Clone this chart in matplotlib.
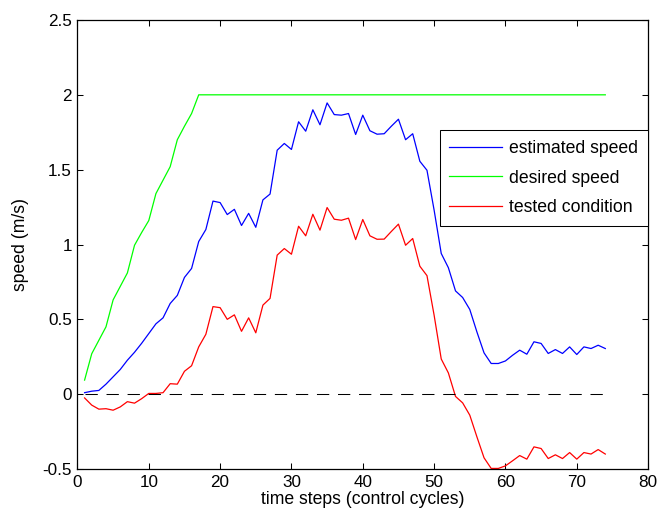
import numpy as np
import matplotlib
matplotlib.use("Agg")
import matplotlib.pyplot as plt

plt.rcParams["font.family"] = ["Liberation Sans", "DejaVu Sans"]
plt.rcParams["axes.unicode_minus"] = False

steps = np.arange(1, 75)

estimated_speed = [
    0.01, 0.02, 0.025, 0.067, 0.116, 0.165, 0.227, 0.28, 0.34, 0.405,
    0.47, 0.51, 0.606, 0.66, 0.78, 0.84, 1.02, 1.10, 1.29, 1.28,
    1.20, 1.235, 1.127, 1.208, 1.115, 1.298, 1.337, 1.63, 1.675, 1.635,
    1.82, 1.757, 1.90, 1.80, 1.946, 1.868, 1.864, 1.875, 1.735, 1.864,
    1.76, 1.737, 1.74, 1.79, 1.837, 1.70, 1.74, 1.556, 1.496, 1.23,
    0.94, 0.845, 0.69, 0.646, 0.566, 0.416, 0.276, 0.205, 0.205, 0.222,
    0.26, 0.294, 0.267, 0.35, 0.339, 0.272, 0.298, 0.272, 0.316, 0.265,
    0.316, 0.305, 0.327, 0.305,
]

desired_speed = [
    0.094, 0.27, 0.36, 0.45, 0.63, 0.72, 0.81, 0.995, 1.08, 1.16,
    1.34, 1.43, 1.52, 1.70, 1.79, 1.875, 2.0, 2.0, 2.0, 2.0,
    2.0, 2.0, 2.0, 2.0, 2.0, 2.0, 2.0, 2.0, 2.0, 2.0,
    2.0, 2.0, 2.0, 2.0, 2.0, 2.0, 2.0, 2.0, 2.0, 2.0,
    2.0, 2.0, 2.0, 2.0, 2.0, 2.0, 2.0, 2.0, 2.0, 2.0,
    2.0, 2.0, 2.0, 2.0, 2.0, 2.0, 2.0, 2.0, 2.0, 2.0,
    2.0, 2.0, 2.0, 2.0, 2.0, 2.0, 2.0, 2.0, 2.0, 2.0,
    2.0, 2.0, 2.0, 2.0,
]

tested_condition = [
    -0.025, -0.073, -0.10, -0.097, -0.107, -0.085, -0.05, -0.06, -0.03, 0.005,
    0.005, 0.01, 0.07, 0.067, 0.153, 0.19, 0.316, 0.40, 0.585, 0.578,
    0.50, 0.53, 0.42, 0.51, 0.41, 0.595, 0.64, 0.929, 0.973, 0.935,
    1.122, 1.058, 1.202, 1.096, 1.247, 1.169, 1.162, 1.176, 1.033, 1.167,
    1.058, 1.035, 1.036, 1.087, 1.136, 0.995, 1.04, 0.855, 0.792, 0.528,
    0.235, 0.142, -0.015, -0.058, -0.14, -0.285, -0.425, -0.496, -0.496, -0.479,
    -0.445, -0.41, -0.434, -0.352, -0.363, -0.43, -0.405, -0.43, -0.39, -0.434,
    -0.39, -0.40, -0.37, -0.40,
]

zero_line = np.zeros(len(steps))

fig = plt.figure(figsize=(6.62, 5.19), dpi=100)
ax = fig.add_axes([0.117, 0.0963, 0.862, 0.8652])

ax.plot(steps, estimated_speed, color=(0, 0, 1), lw=0.9, label="estimated speed")
ax.plot(steps, desired_speed, color=(0, 1, 0), lw=0.9, label="desired speed")
ax.plot(steps, tested_condition, color=(1, 0, 0), lw=0.9, label="tested condition")
ax.plot(steps, zero_line, color="black", lw=0.75, dashes=(11.8, 8.4))

ax.set_xlim(0, 80)
ax.set_ylim(-0.5, 2.5)
ax.set_xticks(np.arange(0, 81, 10))
ax.set_yticks([-0.5, 0, 0.5, 1, 1.5, 2, 2.5])
ax.set_yticklabels(["-0.5", "0", "0.5", "1", "1.5", "2", "2.5"])
ax.tick_params(direction="in", length=4, width=0.75, top=True, right=True,
               labelsize=12.3, pad=4)
for s in ax.spines.values():
    s.set_linewidth(0.9)

ax.set_xlabel("time steps (control cycles)", fontsize=12.7)
ax.set_ylabel("speed (m/s)", fontsize=12.7)
ax.xaxis.set_label_coords(0.5, -0.05)
ax.yaxis.set_label_coords(-0.085, 0.5)

leg = ax.legend(loc="upper right", bbox_to_anchor=(1.0, 0.755), borderaxespad=0,
                fontsize=12.7, fancybox=False, edgecolor="black", framealpha=1,
                handlelength=3.0, handletextpad=0.4, labelspacing=0.73, borderpad=0.55)
leg.get_frame().set_linewidth(0.75)

fig.savefig("out.png", dpi=100)
